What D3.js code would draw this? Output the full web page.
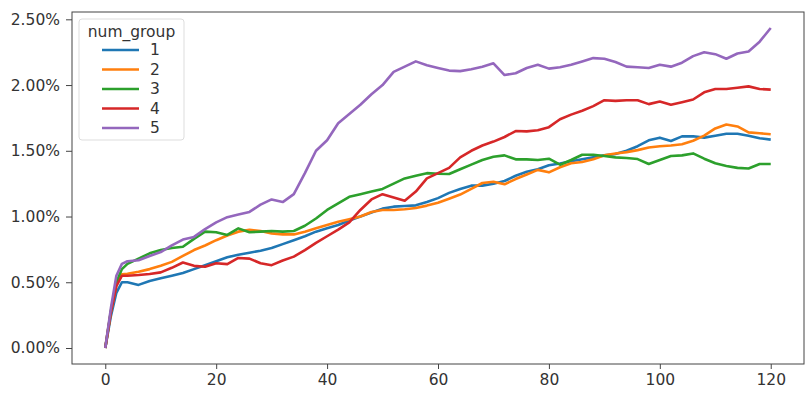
<!DOCTYPE html>
<html>
<head>
<meta charset="utf-8">
<script src="https://cdn.jsdelivr.net/npm/d3@7"></script>
<style>
  body { margin: 0; background: #fff; }
  text { font-family: "DejaVu Sans", sans-serif; fill: #333; }
</style>
</head>
<body>
<svg id="chart" width="807" height="396"></svg>
<script>
// x positions (days) and the five num_group series, values in percent
var days = [0,1,2,3,4,6,8,10,12,14,16,18,20,22,24,26,28,30,32,34,36,38,40,42,44,46,48,50,52,54,56,58,60,
  62,64,66,68,70,72,74,76,78,80,82,84,86,88,90,92,94,96,98,100,102,104,106,108,110,112,114,116,118,120];

var group1 = [0,0.24,0.42,0.50,0.50,0.48,0.51,0.53,0.55,0.57,0.60,0.63,0.66,0.69,0.71,0.725,0.74,0.76,0.79,0.82,
  0.85,0.885,0.91,0.935,0.97,1.0,1.03,1.06,1.075,1.08,1.085,1.11,1.14,1.18,1.21,1.235,1.235,1.25,1.27,1.31,
  1.34,1.36,1.39,1.404,1.42,1.435,1.45,1.465,1.475,1.50,1.535,1.58,1.60,1.575,1.61,1.61,1.60,1.615,1.63,1.63,
  1.615,1.596,1.585];
var group2 = [0,0.27,0.48,0.56,0.565,0.58,0.60,0.625,0.655,0.70,0.745,0.78,0.82,0.856,0.885,0.90,0.89,0.872,0.864,0.864,
  0.885,0.91,0.935,0.96,0.98,1.0,1.035,1.05,1.05,1.055,1.065,1.083,1.105,1.135,1.167,1.21,1.255,1.265,1.245,1.285,
  1.32,1.355,1.336,1.375,1.405,1.415,1.435,1.465,1.48,1.49,1.505,1.525,1.535,1.54,1.55,1.576,1.615,1.67,1.70,1.685,
  1.64,1.633,1.626];
var group3 = [0,0.28,0.50,0.60,0.64,0.68,0.72,0.745,0.76,0.77,0.83,0.885,0.88,0.86,0.91,0.88,0.885,0.89,0.885,0.89,
  0.93,0.985,1.05,1.10,1.15,1.17,1.19,1.21,1.25,1.29,1.31,1.33,1.325,1.323,1.36,1.395,1.43,1.455,1.465,1.435,
  1.435,1.43,1.44,1.394,1.43,1.47,1.47,1.46,1.45,1.445,1.437,1.40,1.43,1.46,1.465,1.48,1.44,1.405,1.385,1.37,
  1.365,1.40,1.40];
var group4 = [0,0.27,0.47,0.55,0.55,0.555,0.563,0.575,0.61,0.65,0.625,0.618,0.645,0.638,0.685,0.68,0.645,0.63,0.665,0.695,
  0.745,0.80,0.85,0.90,0.955,1.05,1.13,1.17,1.145,1.12,1.19,1.29,1.33,1.37,1.45,1.50,1.54,1.57,1.605,1.65,
  1.648,1.656,1.68,1.74,1.775,1.805,1.84,1.885,1.88,1.885,1.885,1.855,1.875,1.85,1.87,1.89,1.945,1.97,1.97,1.98,
  1.99,1.97,1.965];
var group5 = [0,0.30,0.55,0.64,0.66,0.667,0.70,0.73,0.78,0.825,0.845,0.905,0.955,0.995,1.015,1.035,1.09,1.13,1.11,1.17,
  1.33,1.50,1.58,1.71,1.78,1.85,1.93,2.0,2.10,2.14,2.18,2.15,2.13,2.11,2.106,2.12,2.14,2.165,2.076,2.09,
  2.13,2.155,2.125,2.135,2.155,2.18,2.205,2.2,2.175,2.14,2.135,2.13,2.155,2.14,2.17,2.22,2.25,2.235,2.20,2.24,
  2.255,2.33,2.434];

var groupNames = ["1", "2", "3", "4", "5"];
var groupColors = ["#1f77b4", "#ff7f0e", "#2ca02c", "#d62728", "#9467bd"];
var yTicks = [0, 0.5, 1.0, 1.5, 2.0, 2.5];
var xTicks = [0, 20, 40, 60, 80, 100, 120];

var allSeries = [group1, group2, group3, group4, group5];

var svg = d3.select("#chart");
var plotL = 72, plotT = 12, plotR = 804, plotB = 364;

var yMax = d3.max(allSeries, function(s) { return d3.max(s); });
var pad = yMax * 0.05;
var x = d3.scaleLinear().domain([-6, 126]).range([plotL, plotR]);
var y = d3.scaleLinear().domain([-pad, yMax + pad]).range([plotB, plotT]);

var line = d3.line()
  .x(function(d, i) { return x(days[i]); })
  .y(function(d) { return y(d); });

svg.append("clipPath").attr("id", "clip")
  .append("rect").attr("x", plotL).attr("y", plotT).attr("width", plotR - plotL).attr("height", plotB - plotT);

svg.append("g").attr("clip-path", "url(#clip)")
  .selectAll("path.series")
  .data(allSeries)
  .enter().append("path")
    .classed("series", true)
    .attr("d", line)
    .attr("fill", "none")
    .attr("stroke", function(d, i) { return groupColors[i]; })
    .attr("stroke-width", 2.6)
    .attr("stroke-linejoin", "round");

// axes
var xAxis = svg.append("g").attr("transform", "translate(0," + plotB + ")")
  .call(d3.axisBottom(x).tickValues(xTicks).tickSize(5).tickPadding(5));
var yAxis = svg.append("g").attr("transform", "translate(" + plotL + ",0)")
  .call(d3.axisLeft(y).tickValues(yTicks).tickSize(6).tickPadding(6)
    .tickFormat(function(d) { return d.toFixed(2) + "%"; }));

[xAxis, yAxis].forEach(function(a) {
  a.select(".domain").remove();
  a.selectAll(".tick line").attr("stroke", "#444");
  a.selectAll(".tick text").style("font-size", "15.5px").style("font-family", "DejaVu Sans").attr("fill", "#333");
});

// frame
svg.append("rect")
  .attr("x", plotL).attr("y", plotT)
  .attr("width", plotR - plotL).attr("height", plotB - plotT)
  .attr("fill", "none").attr("stroke", "#444").attr("stroke-width", 1);

// legend
var legend = svg.append("g").attr("transform", "translate(79,19)");
legend.append("rect")
  .attr("width", 105).attr("height", 121).attr("rx", 3)
  .attr("fill", "#fff").attr("fill-opacity", 0.85)
  .attr("stroke", "#ddd").attr("stroke-width", 1);
legend.append("text")
  .attr("x", 52.5).attr("y", 18).attr("text-anchor", "middle")
  .style("font-size", "15.5px")
  .text("num_group");
var items = legend.selectAll("g.item")
  .data(groupNames)
  .enter().append("g")
    .attr("transform", function(d, i) { return "translate(0," + (31 + i * 19.5) + ")"; });
items.append("line")
  .attr("x1", 23).attr("x2", 60)
  .attr("stroke", function(d, i) { return groupColors[i]; })
  .attr("stroke-width", 2.6);
items.append("text")
  .attr("x", 71).attr("dy", "0.35em")
  .style("font-size", "15.5px")
  .text(function(d) { return d; });
</script>
</body>
</html>
